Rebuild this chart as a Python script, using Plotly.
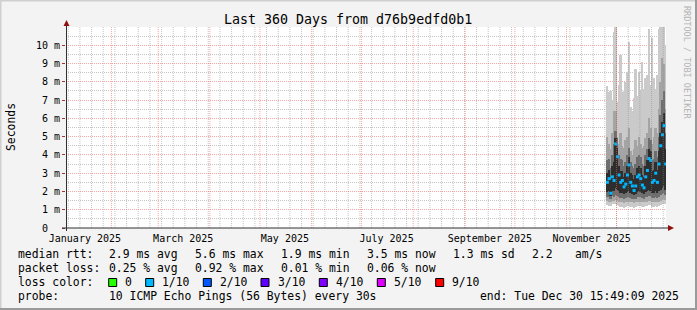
import plotly.graph_objects as go
import pandas as pd

# ---------------- data ----------------
end_time = pd.Timestamp("2025-12-30 15:49:09")
start_time = end_time - pd.Timedelta(days=360)

bin_dates = pd.date_range("2025-11-25", periods=36, freq="D")

median_ms = [2.5, 2.7, 1.9, 2.8, 2.6, 4.6, 3.9, 2.9, 2.5, 2.6, 2.25, 2.4, 2.9, 3.45, 2.5, 2.3,
             2.05, 2.3, 2.8, 2.9, 2.7, 2.35, 2.2, 2.8, 3.15, 3.8, 3.7, 2.5, 2.6, 3.0, 2.5, 3.5,
             4.5, 5.1, 5.6, 3.5]
smoke1_lo = [1.25, 1.2, 1.2, 1.3, 1.3, 1.3, 1.25, 1.2, 1.15, 1.15, 1.1, 1.15, 1.2, 1.2, 1.15, 1.15,
             1.1, 1.15, 1.2, 1.2, 1.2, 1.15, 1.15, 1.2, 1.2, 1.25, 1.25, 1.15, 1.15, 1.2, 1.15, 1.2,
             1.25, 1.3, 1.3, 1.3]
smoke1_hi = [7.75, 7.45, 7.5, 7.0, 10.7, 11.5, 6.9, 7.8, 9.45, 7.45, 7.5, 8.0, 8.55, 10.2, 6.6, 6.4,
             7.1, 8.7, 7.2, 8.55, 7.5, 9.1, 7.6, 8.2, 8.4, 10.9, 7.8, 10.4, 8.2, 7.6, 8.4, 10.9,
             11.5, 11.5, 11.5, 10.0]
smoke2_lo = [1.5, 1.45, 1.4, 1.5, 1.5, 1.55, 1.5, 1.45, 1.4, 1.4, 1.35, 1.4, 1.45, 1.45, 1.4, 1.4,
             1.35, 1.4, 1.45, 1.45, 1.45, 1.4, 1.4, 1.45, 1.45, 1.5, 1.5, 1.4, 1.4, 1.45, 1.4, 1.45,
             1.5, 1.55, 1.6, 1.55]
smoke2_hi = [5.0, 4.6, 4.3, 5.2, 6.4, 6.4, 5.0, 4.6, 5.2, 4.5, 4.4, 4.8, 5.0, 5.5, 4.2, 4.0,
             4.3, 4.8, 4.5, 5.0, 4.6, 4.4, 4.5, 4.9, 5.2, 6.0, 5.5, 4.6, 5.0, 5.5, 5.2, 6.5,
             8.0, 9.3, 9.0, 6.5]
smoke3_lo = [1.7, 1.7, 1.6, 1.75, 1.7, 1.8, 1.75, 1.7, 1.65, 1.65, 1.6, 1.65, 1.7, 1.7, 1.65, 1.6,
             1.6, 1.6, 1.7, 1.7, 1.7, 1.65, 1.6, 1.7, 1.7, 1.75, 1.75, 1.65, 1.65, 1.7, 1.65, 1.7,
             1.8, 1.85, 1.9, 1.8]
smoke3_hi = [3.7, 3.8, 3.3, 4.0, 4.6, 5.3, 4.9, 4.0, 3.8, 3.7, 3.4, 3.6, 4.0, 4.4, 3.6, 3.4,
             3.3, 3.5, 3.9, 4.0, 3.9, 3.5, 3.4, 4.0, 4.3, 4.9, 4.8, 3.7, 3.8, 4.2, 3.9, 5.0,
             6.2, 7.0, 7.5, 5.2]
smoke4_lo = [1.95, 2.0, 1.75, 2.05, 2.0, 2.2, 2.1, 2.0, 1.9, 1.9, 1.85, 1.9, 1.95, 2.0, 1.9, 1.85,
             1.8, 1.85, 1.95, 2.0, 1.95, 1.9, 1.85, 1.95, 2.0, 2.1, 2.05, 1.9, 1.9, 2.0, 1.9, 2.0,
             2.1, 2.2, 2.3, 2.1]
smoke4_hi = [3.0, 3.2, 2.6, 3.4, 3.6, 4.9, 4.4, 3.4, 3.1, 3.1, 2.8, 3.0, 3.4, 3.9, 3.0, 2.9,
             2.7, 2.9, 3.3, 3.4, 3.3, 2.9, 2.8, 3.4, 3.7, 4.3, 4.2, 3.1, 3.2, 3.6, 3.2, 4.2,
             5.2, 5.8, 6.3, 4.3]

y_tick_vals = [0, 1, 2, 3, 4, 5, 6, 7, 8, 9, 10]
y_tick_text = ["0\u00a0\u00a0", "1 m", "2 m", "3 m", "4 m", "5 m", "6 m", "7 m", "8 m", "9 m", "10 m"]
x_label_dates = ["2025-01-16", "2025-03-16", "2025-05-16", "2025-07-16", "2025-09-16", "2025-11-16"]
x_label_text = ["January 2025", "March 2025", "May 2025", "July 2025", "September 2025", "November 2025"]

loss_labels = ["0", "1/10", "2/10", "3/10", "4/10", "5/10", "9/10"]
loss_colors = ["#26ff00", "#00b8ff", "#0059ff", "#5e00ff", "#7e00ff", "#dd00ff", "#ff0000"]

# ---------------- geometry ----------------
W, H = 697, 310
ML, MR, MT, MB = 66, 31, 27, 82
PW = W - ML - MR
PH = H - MT - MB
FONT = "DejaVu Sans Mono"


def px(xp):
    return (xp - ML) / PW


def py(yp):
    return (MT + PH - yp) / PH


centers = bin_dates + pd.Timedelta(hours=12)
bar_w = 86400000 * 1.05

fig = go.Figure()
layers = [(smoke1_lo, smoke1_hi, "#cacaca"), (smoke2_lo, smoke2_hi, "#a4a4a4"),
          (smoke3_lo, smoke3_hi, "#6e6e6e"), (smoke4_lo, smoke4_hi, "#2e2e2e")]
for lo, hi, col in layers:
    fig.add_trace(go.Bar(x=centers, y=[h - l for l, h in zip(lo, hi)], base=lo, width=bar_w,
                         marker=dict(color=col, line=dict(width=0)), hoverinfo="skip"))
fig.add_trace(go.Scatter(x=centers, y=median_ms, mode="markers",
                         marker=dict(symbol="square", size=3, color="#00b8ff", line=dict(width=0)),
                         hoverinfo="skip"))

shapes = []
# vertical grid: weekly (Mondays) minor, monthly major
for d in pd.date_range("2025-01-06", end_time, freq="7D"):
    shapes.append(dict(type="line", xref="x", yref="paper", x0=d, x1=d, y0=0, y1=1, layer="above",
                       line=dict(color="rgba(140,140,140,0.5)", width=1, dash="1px,1px")))
for d in pd.date_range("2025-02-01", end_time, freq="MS"):
    shapes.append(dict(type="line", xref="x", yref="paper", x0=d, x1=d, y0=0, y1=1, layer="above",
                       line=dict(color="rgba(240,60,60,0.45)", width=1, dash="1px,1px")))
# axis lines
shapes.append(dict(type="line", xref="paper", yref="paper", x0=px(62), x1=px(669), y0=py(228), y1=py(228),
                   layer="above", line=dict(color="#303030", width=1)))
shapes.append(dict(type="line", xref="paper", yref="paper", x0=px(66.5), x1=px(66.5), y0=py(231), y1=py(24),
                   layer="above", line=dict(color="#303030", width=1)))
# arrows
shapes.append(dict(type="path", xref="paper", yref="paper", layer="above",
                   path=f"M {px(63.5)},{py(26)} L {px(69.5)},{py(26)} L {px(66.5)},{py(20)} Z",
                   fillcolor="#901010", line=dict(width=0)))
shapes.append(dict(type="path", xref="paper", yref="paper", layer="above",
                   path=f"M {px(668)},{py(225)} L {px(668)},{py(231)} L {px(674)},{py(228)} Z",
                   fillcolor="#901010", line=dict(width=0)))
# outer frame
shapes.append(dict(type="line", xref="paper", yref="paper", x0=px(0), x1=px(W), y0=py(0.5), y1=py(0.5),
                   line=dict(color="#cfcfcf", width=2)))
shapes.append(dict(type="line", xref="paper", yref="paper", x0=px(0.5), x1=px(0.5), y0=py(0), y1=py(H),
                   line=dict(color="#cfcfcf", width=2)))
shapes.append(dict(type="line", xref="paper", yref="paper", x0=px(0), x1=px(W), y0=py(H - 1), y1=py(H - 1),
                   line=dict(color="#9a9a9a", width=2)))
shapes.append(dict(type="line", xref="paper", yref="paper", x0=px(W - 1), x1=px(W - 1), y0=py(0), y1=py(H),
                   line=dict(color="#9a9a9a", width=2)))

ann = []


def txt(s, x, y, size=11.4, color="#000000", xanchor="left", angle=0):
    ann.append(dict(text=s, x=px(x), y=py(y), xref="paper", yref="paper", showarrow=False,
                    xanchor=xanchor, yanchor="middle", textangle=angle,
                    font=dict(family=FONT, size=size, color=color)))


txt("Last 360 Days from d76b9edfd0b1", 348, 19.5, size=13.3, xanchor="center")
txt("Seconds", 11, 127, size=11.4, xanchor="center", angle=-90)
txt("RRDTOOL / TOBI OETIKER", 687, 62, size=8.5, color="#b4b4b4", xanchor="center", angle=90)

row1 = [("median rtt:", 16), ("2.9 ms avg", 107.3), ("5.6 ms max", 193.3), ("1.9 ms min", 279.3),
        ("3.5 ms now", 365), ("1.3 ms sd", 451), ("2.2", 530), ("am/s", 572.7)]
row2 = [("packet loss:", 16), ("0.25 % avg", 107.3), ("0.92 % max", 193.3), ("0.01 % min", 279.3),
        ("0.06 % now", 365)]
row4 = [("probe:", 16), ("10 ICMP Echo Pings (56 Bytes) every 30s", 107.3),
        ("end: Tue Dec 30 15:49:09 2025", 478.3)]
for s, x in row1:
    txt(s, x, 254.3)
for s, x in row2:
    txt(s, x, 268.3)
for s, x in row4:
    txt(s, x, 296.3)
txt("loss color:", 16, 282.3)
box_x = [108.7, 145.7, 203.3, 261, 319.3, 377.3, 435.7]
for lab, col, bx in zip(loss_labels, loss_colors, box_x):
    shapes.append(dict(type="rect", xref="paper", yref="paper", x0=px(bx), x1=px(bx + 8),
                       y0=py(286.5), y1=py(278.5), fillcolor=col, line=dict(color="#000000", width=1)))
    txt(lab, bx + 14.6, 282.3)

fig.update_layout(
    width=W, height=H, autosize=False,
    margin=dict(l=ML, r=MR, t=MT, b=MB, pad=0),
    paper_bgcolor="#f3f3f3", plot_bgcolor="#ffffff",
    showlegend=False, barmode="overlay", bargap=0,
    shapes=shapes, annotations=ann,
    font=dict(family=FONT, size=10, color="#000000"),
    xaxis=dict(type="date", range=[start_time, end_time], tickmode="array",
               tickvals=x_label_dates, ticktext=x_label_text, ticks="", showgrid=False,
               ticklabelstandoff=3,
               zeroline=False, showline=False, tickfont=dict(family=FONT, size=10, color="#000000"),
               layer="above traces", fixedrange=True),
    yaxis=dict(range=[0, 11], tickmode="array", tickvals=y_tick_vals, ticktext=y_tick_text,
               ticks="outside", ticklen=3, tickcolor="#b03030", tickwidth=1,
               showgrid=True, gridcolor="rgba(240,60,60,0.45)", griddash="1px,1px", gridwidth=1,
               minor=dict(tickvals=[v + 0.5 for v in range(11)], showgrid=True,
                          gridcolor="rgba(140,140,140,0.5)", griddash="1px,1px", gridwidth=1),
               zeroline=False, showline=False, tickfont=dict(family=FONT, size=10, color="#000000"),
               layer="above traces", fixedrange=True),
)

fig.write_html("out.html")
